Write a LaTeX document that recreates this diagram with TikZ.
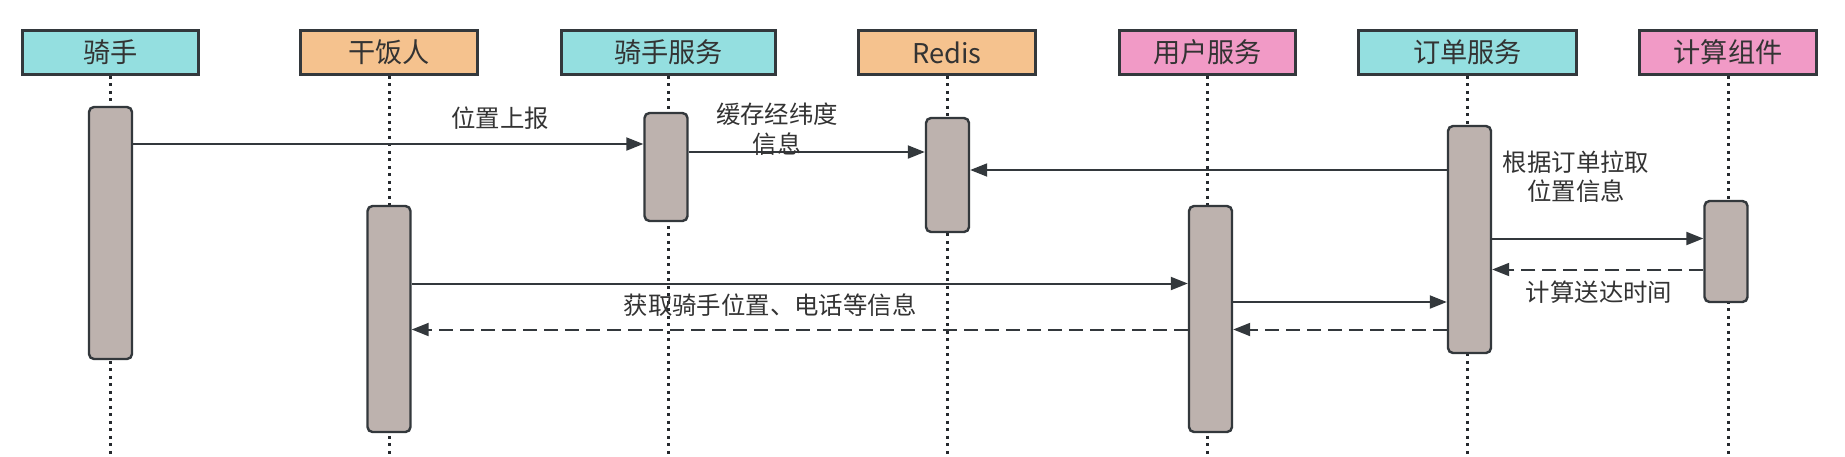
\documentclass[tikz,border=0pt]{standalone}
\usepackage{fontspec}
\newfontfamily\cjk{Noto Sans CJK SC}
\usetikzlibrary{arrows.meta}
\definecolor{seq_line}{HTML}{33383C}
\definecolor{seq_dot}{HTML}{25292D}
\definecolor{seq_text}{HTML}{333333}
\definecolor{fill_c}{HTML}{94DFE0}
\definecolor{fill_o}{HTML}{F5C28E}
\definecolor{fill_p}{HTML}{F19AC6}
\definecolor{fill_b}{HTML}{BDB2AE}
\tikzset{
  actor/.style = {draw=seq_line, line width=1.4pt, inner sep=0pt,
    minimum height=22pt, text=seq_text, font=\cjk\fontsize{13.6}{16}\selectfont},
  actor_c/.style = {actor, fill=fill_c},% cyan box
  actor_o/.style = {actor, fill=fill_o},% orange box
  actor_p/.style = {actor, fill=fill_p},% pink box
  act_bar/.style = {draw=seq_line, fill=fill_b, line width=1.2pt,
    rounded corners=2.5pt, inner sep=0pt, minimum width=21.5pt},% activation
  lifeline/.style = {draw=seq_dot, line width=1.5pt, dash pattern=on 1.5pt off 2.25pt},
  msg/.style = {draw=seq_line, line width=1pt,
    -{Triangle[length=8.5pt,width=6.5pt]}},% call
  msg_r/.style = {msg, dash pattern=on 7pt off 3.5pt},% reply
  msg_lbl/.style = {text=seq_text, align=center, inner sep=0pt,
    font=\cjk\fontsize{12.2}{14.8}\selectfont}
}

\begin{document}
\begin{tikzpicture}[x=0.5pt,y=-0.5pt]

	\path[use as bounding box, fill=white] (0,0) rectangle (1845,456);
	\coordinate (bot) at (0,456);

	% participants
	\node [actor_c, minimum width=88pt]  (rider) at (110.5,52.5) {骑手};
	\node [actor_o, minimum width=88.5pt] (eater) at (389,52.5) {干饭人};
	\node [actor_c, minimum width=107pt] (rsvc)  at (668.5,52.5) {骑手服务};
	\node [actor_o, minimum width=88.5pt] (redis) at (947,52.5) {Redis};
	\node [actor_p, minimum width=88pt]  (usvc)  at (1207.5,52.5) {用户服务};
	\node [actor_c, minimum width=109pt] (osvc)  at (1467.5,52.5) {订单服务};
	\node [actor_p, minimum width=88.5pt] (calc)  at (1728,52.5) {计算组件};

	% lifelines
	\draw [lifeline] (rider.south) -- (rider.south |- bot);
	\draw [lifeline] (eater.south) -- (eater.south |- bot);
	\draw [lifeline] (rsvc.south) -- (rsvc.south |- bot);
	\draw [lifeline] (redis.south) -- (redis.south |- bot);
	\draw [lifeline] (usvc.south) -- (usvc.south |- bot);
	\draw [lifeline] (osvc.south) -- (osvc.south |- bot);
	\draw [lifeline] (calc.south) -- (calc.south |- bot);

	% activations
	\node [act_bar, minimum height=126pt]   (rider_b) at (110.5,233) {};
	\node [act_bar, minimum height=113pt]   (eater_b) at (389,319) {};
	\node [act_bar, minimum height=54pt]    (rsvc_b)  at (666,167) {};
	\node [act_bar, minimum height=57pt]    (redis_b) at (947.5,175) {};
	\node [act_bar, minimum height=113pt]   (usvc_b)  at (1210.5,319) {};
	\node [act_bar, minimum height=113.5pt] (osvc_b)  at (1469.5,239.5) {};
	\node [act_bar, minimum height=50.5pt]  (calc_b)  at (1726,251.5) {};

	% message rows
	\coordinate (m1) at (0,144);
	\coordinate (m2) at (0,152);
	\coordinate (m3) at (0,170);
	\coordinate (m4) at (0,238.5);
	\coordinate (m5) at (0,269.5);
	\coordinate (m6) at (0,283.5);
	\coordinate (m7) at (0,302);
	\coordinate (m8) at (0,329.5);

	\draw [msg]   (rider_b.east |- m1) -- (rsvc_b.west |- m1);
	\draw [msg]   (rsvc_b.east |- m2) -- (redis_b.west |- m2);
	\draw [msg]   (osvc_b.west |- m3) -- (redis_b.east |- m3);
	\draw [msg]   (osvc_b.east |- m4) -- (calc_b.west |- m4);
	\draw [msg_r] (calc_b.west |- m5) -- (osvc_b.east |- m5);
	\draw [msg]   (eater_b.east |- m6) -- (usvc_b.west |- m6);
	\draw [msg]   (usvc_b.east |- m7) -- (osvc_b.west |- m7);
	\draw [msg_r] (osvc_b.west |- m8) -- (usvc_b.east |- m8);
	\draw [msg_r] (usvc_b.west |- m8) -- (eater_b.east |- m8);

	% labels
	\node [msg_lbl] (l_report) at (500,118) {位置上报};
	\node [msg_lbl] (l_cache)  at (777,129) {缓存经纬度\\信息};
	\node [msg_lbl] (l_pull)   at (1576,176.5) {根据订单拉取\\位置信息};
	\node [msg_lbl] (l_time)   at (1599,292) {计算送达时间};
	\node [msg_lbl] (l_info)   at (770,305) {获取骑手位置、电话等信息};

\end{tikzpicture}
\end{document}
